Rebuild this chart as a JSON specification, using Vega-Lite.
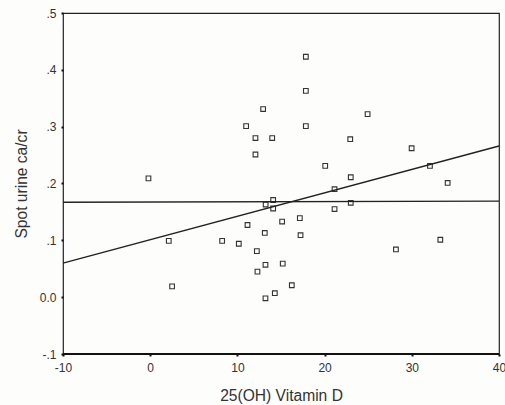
{
  "$schema": "https://vega.github.io/schema/vega-lite/v6.json",
  "autosize": "none",
  "padding": {"left": 63, "top": 13, "right": 6, "bottom": 51},
  "width": 436,
  "height": 341,
  "background": "#fdfdfc",
  "config": {
    "font": "Liberation Sans",
    "view": {"stroke": "#222", "strokeWidth": 1.2},
    "axis": {"grid": false, "domain": false, "tickSize": 2, "tickWidth": 2, "tickColor": "#111", "labelColor": "#333", "titleColor": "#333", "labelFontSize": 12, "titleFontSize": 15.6, "titleFontWeight": "normal"}
  },
  "layer": [
    {
      "data": {"values": [
        {"vitd": 17.85, "ratio": 0.423}, {"vitd": 17.85, "ratio": 0.363}, {"vitd": 12.95, "ratio": 0.331},
        {"vitd": 24.93, "ratio": 0.322}, {"vitd": 11.0, "ratio": 0.301}, {"vitd": 17.85, "ratio": 0.301},
        {"vitd": 12.07, "ratio": 0.28}, {"vitd": 13.99, "ratio": 0.28}, {"vitd": 22.94, "ratio": 0.278},
        {"vitd": 12.07, "ratio": 0.251}, {"vitd": 29.98, "ratio": 0.262}, {"vitd": 20.07, "ratio": 0.231},
        {"vitd": 32.08, "ratio": 0.231}, {"vitd": -0.2, "ratio": 0.209}, {"vitd": 23.0, "ratio": 0.211},
        {"vitd": 34.11, "ratio": 0.201}, {"vitd": 21.14, "ratio": 0.19}, {"vitd": 14.1, "ratio": 0.171},
        {"vitd": 13.24, "ratio": 0.163}, {"vitd": 14.1, "ratio": 0.156}, {"vitd": 21.14, "ratio": 0.155},
        {"vitd": 23.0, "ratio": 0.166}, {"vitd": 17.16, "ratio": 0.139}, {"vitd": 15.13, "ratio": 0.133},
        {"vitd": 11.16, "ratio": 0.127}, {"vitd": 17.24, "ratio": 0.109}, {"vitd": 13.14, "ratio": 0.113},
        {"vitd": 2.13, "ratio": 0.099}, {"vitd": 8.25, "ratio": 0.099}, {"vitd": 10.16, "ratio": 0.094},
        {"vitd": 33.27, "ratio": 0.101}, {"vitd": 12.23, "ratio": 0.081}, {"vitd": 28.18, "ratio": 0.084},
        {"vitd": 13.22, "ratio": 0.057}, {"vitd": 15.2, "ratio": 0.059}, {"vitd": 12.3, "ratio": 0.045},
        {"vitd": 2.51, "ratio": 0.019}, {"vitd": 16.24, "ratio": 0.021}, {"vitd": 14.29, "ratio": 0.007},
        {"vitd": 13.22, "ratio": -0.002}
      ]},
      "mark": {"type": "point", "shape": "square", "size": 22, "filled": false, "stroke": "#333", "strokeWidth": 1.1, "opacity": 1},
      "encoding": {
        "x": {"field": "vitd", "type": "quantitative", "scale": {"domain": [-10, 40], "nice": false, "zero": false},
              "axis": {"values": [-10, 0, 10, 20, 30, 40], "title": "25(OH) Vitamin D", "titlePadding": 15, "labelPadding": 6, "labelFlush": false, "labelOverlap": false,
                       "labelExpr": "replace(format(datum.value, 'd'), '\u2212', '-')"}},
        "y": {"field": "ratio", "type": "quantitative", "scale": {"domain": [-0.1, 0.5], "nice": false, "zero": false},
              "axis": {"values": [-0.1, 0, 0.1, 0.2, 0.3, 0.4, 0.5], "title": "Spot urine ca/cr", "titlePadding": 10, "labelPadding": 5, "labelFlush": false,
                       "labelExpr": "datum.value == 0 ? '0.0' : replace(replace(format(datum.value, '.1f'), '0.', '.'), '\u2212', '-')"}}
      }
    },
    {
      "data": {"values": [{"vitd": -10, "ratio": 0.060}, {"vitd": 40, "ratio": 0.266}]},
      "mark": {"type": "line", "color": "#222", "strokeWidth": 1.4},
      "encoding": {"x": {"field": "vitd", "type": "quantitative"}, "y": {"field": "ratio", "type": "quantitative"}}
    },
    {
      "data": {"values": [{"vitd": -10, "ratio": 0.167}, {"vitd": 40, "ratio": 0.169}]},
      "mark": {"type": "line", "color": "#222", "strokeWidth": 1.4},
      "encoding": {"x": {"field": "vitd", "type": "quantitative"}, "y": {"field": "ratio", "type": "quantitative"}}
    },
    {
      "data": {"values": [{"vitd": -10, "ratio": -0.1}, {"vitd": 40, "ratio": -0.1}]},
      "mark": {"type": "line", "color": "#111", "strokeWidth": 2},
      "encoding": {"x": {"field": "vitd", "type": "quantitative"}, "y": {"field": "ratio", "type": "quantitative"}}
    }
  ]
}
